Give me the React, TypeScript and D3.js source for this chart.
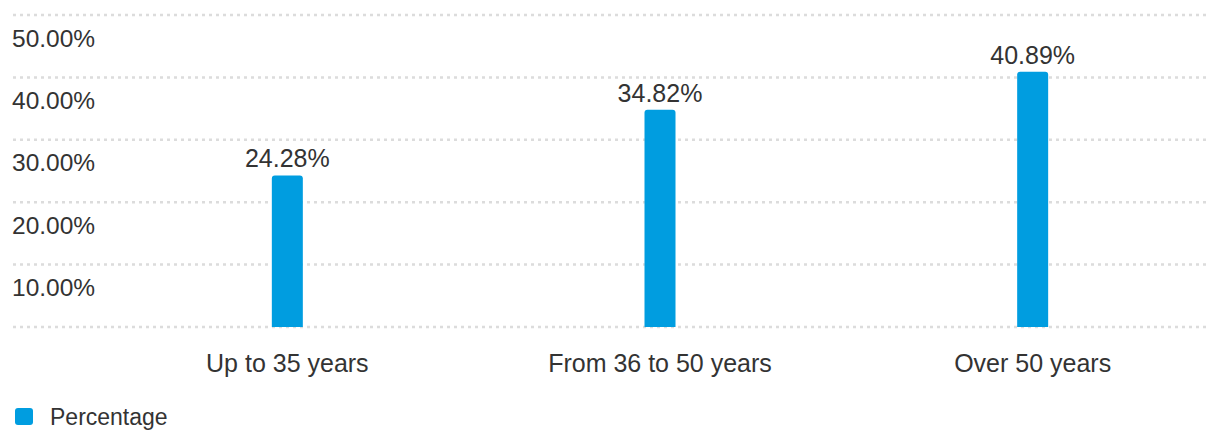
import * as d3 from "d3";

const categories = ["Up to 35 years", "From 36 to 50 years", "Over 50 years"];
const percentages = [24.28, 34.82, 40.89];
const yTicks = [0, 10, 20, 30, 40, 50];
const seriesName = "Percentage";

const width = 1208;
const height = 430;
const barColor = "#009de0";
const textColor = "#333333";
const font = "'Liberation Sans', Arial, sans-serif";

export default function App() {
  const x = d3.scaleBand<string>().domain(categories).range([101, 1219]);
  const y = d3.scaleLinear().domain([0, 50]).range([327, 15]);
  const barWidth = 31;

  return (
    <svg
      width={width}
      height={height}
      style={{ position: "absolute", left: 0, top: 0, background: "#fff" }}
      fontFamily={font}
    >
      {/* grid */}
      <g stroke="#dcdcdc" strokeWidth={2.5} strokeDasharray="3,4">
        {yTicks.map((t) => (
          <line key={t} x1={13} x2={width} y1={y(t)} y2={y(t)} />
        ))}
      </g>

      {/* y labels, sitting under their grid lines */}
      <g fill={textColor} fontSize={24.5}>
        {yTicks
          .filter((t) => t > 0)
          .map((t) => (
            <text key={t} x={12} y={y(t) + 31.5}>
              {t.toFixed(2)}%
            </text>
          ))}
      </g>

      {/* bars */}
      {categories.map((c, i) => {
        const cx = (x(c) ?? 0) + x.bandwidth() / 2;
        const top = y(percentages[i]);
        const bottom = y(0);
        const r = 3;
        const l = cx - barWidth / 2;
        const rr = cx + barWidth / 2;
        const path = d3.path();
        path.moveTo(l, bottom);
        path.lineTo(l, top + r);
        path.quadraticCurveTo(l, top, l + r, top);
        path.lineTo(rr - r, top);
        path.quadraticCurveTo(rr, top, rr, top + r);
        path.lineTo(rr, bottom);
        path.closePath();
        return (
          <g key={c}>
            <path d={path.toString()} fill={barColor} />
            <text
              x={cx}
              y={top - 8}
              textAnchor="middle"
              fill={textColor}
              fontSize={25}
            >
              {percentages[i].toFixed(2)}%
            </text>
            <text
              x={cx}
              y={372}
              textAnchor="middle"
              fill={textColor}
              fontSize={25}
            >
              {c}
            </text>
          </g>
        );
      })}

      {/* legend */}
      <rect x={15} y={408} width={18} height={17} rx={3} fill={barColor} />
      <text x={50} y={425} fill={textColor} fontSize={23}>
        {seriesName}
      </text>
    </svg>
  );
}
